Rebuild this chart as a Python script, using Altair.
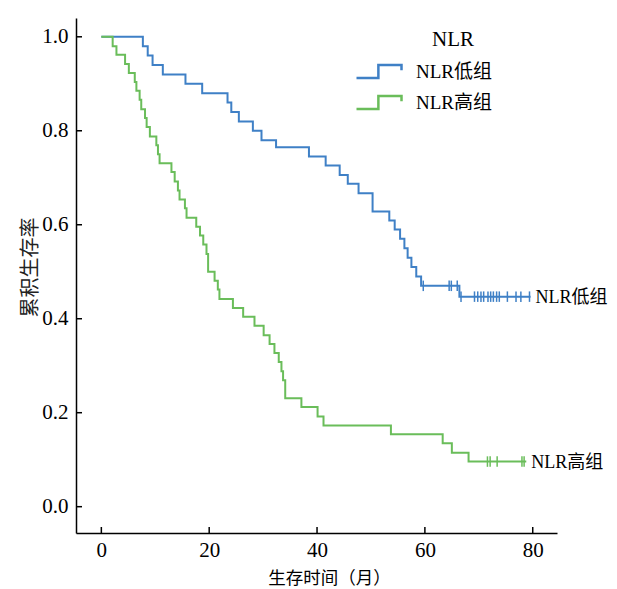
import altair as alt
import pandas as pd

# ---- data ----
groups = ["NLR低组", "NLR高组"]
colors = ["#3f80c6", "#6abd5a"]

low_time = [0, 7.7, 8.6, 9.5, 11.4, 15.6, 18.7, 23.4, 24.1, 25.5, 28.1, 29.7, 32.4,
            38.5, 41.6, 44.2, 45.7, 47.7, 50.3, 53.4, 54.4, 55.4, 56.2, 56.8, 57.5,
            58.4, 59.3, 66.4, 79.6]
low_surv = [1.0, 0.98, 0.96, 0.94, 0.92, 0.90, 0.88, 0.86, 0.84, 0.82, 0.80, 0.78, 0.765,
            0.745, 0.726, 0.706, 0.687, 0.667, 0.628, 0.609, 0.590, 0.570, 0.550, 0.530, 0.510,
            0.490, 0.470, 0.447, 0.447]
low_censor = [59.7, 64.5, 64.9, 66.0, 66.7, 69.2, 69.8, 70.4, 70.9, 71.7, 72.2, 72.7,
              73.3, 73.8, 75.3, 76.9, 77.8, 79.4]

high_time = [0, 2.1, 2.8, 4.4, 5.1, 6.2, 6.5, 7.1, 7.4, 8.1, 8.4, 9.0, 10.2, 10.5, 10.8,
             13.0, 13.6, 14.2, 14.5, 15.5, 15.8, 17.6, 18.3, 18.9, 19.5, 19.8, 21.0, 21.6,
             21.9, 24.4, 26.3, 28.4, 30.1, 31.2, 32.1, 32.9, 33.4, 33.7, 34.1, 37.1, 40.1,
             41.2, 53.7, 63.3, 65.0, 68.1, 78.8]
high_surv = [1.0, 0.98, 0.962, 0.942, 0.923, 0.904, 0.885, 0.866, 0.846, 0.827, 0.808, 0.788,
             0.769, 0.75, 0.731, 0.712, 0.692, 0.673, 0.654, 0.635, 0.615, 0.596, 0.577, 0.558,
             0.538, 0.50, 0.481, 0.462, 0.442, 0.423, 0.404, 0.385, 0.365, 0.346, 0.327, 0.308,
             0.288, 0.269, 0.231, 0.212, 0.192, 0.173, 0.154, 0.135, 0.115, 0.096, 0.096]
high_censor = [71.6, 72.1, 73.4, 78.0, 78.4]

x_ticks = [0, 20, 40, 60, 80]
y_ticks = [0.0, 0.2, 0.4, 0.6, 0.8, 1.0]

legend_title = "NLR"
x_title = "生存时间（月）"
y_title = "累积生存率"

# ---- tables ----
def step_value(times, survs, t):
    val = survs[0]
    for ti, si in zip(times, survs):
        if ti <= t:
            val = si
    return val

rows = []
for g, ts, ss in [(groups[0], low_time, low_surv), (groups[1], high_time, high_surv)]:
    for i, (t, s) in enumerate(zip(ts, ss)):
        rows.append({"group": g, "time": t, "surv": s, "order": i})
curves = pd.DataFrame(rows)

crow = []
for g, cs, ts, ss in [(groups[0], low_censor, low_time, low_surv),
                      (groups[1], high_censor, high_time, high_surv)]:
    for c in cs:
        crow.append({"group": g, "time": c, "surv": step_value(ts, ss, c)})
censors = pd.DataFrame(crow)

ends = pd.DataFrame([
    {"group": groups[0], "time": low_time[-1], "surv": low_surv[-1]},
    {"group": groups[1], "time": high_time[-1], "surv": high_surv[-1]},
])

xt = pd.DataFrame({"v": x_ticks})
yt = pd.DataFrame({"v": y_ticks})

W, H = 481, 515
SERIF = "Liberation Serif, Noto Sans CJK SC"
CJK = "Noto Sans CJK SC"

xscale = alt.Scale(domain=[-4.7, 84.5], nice=False, zero=False)
yscale = alt.Scale(domain=[-0.056, 1.04], nice=False, zero=False)
cscale = alt.Scale(domain=groups, range=colors)

xaxis = alt.Axis(values=x_ticks, format="d", ticks=False, grid=False, domainColor="black",
                 domainWidth=1.5, labelFont=SERIF, labelFontSize=21, labelColor="black",
                 labelPadding=6, title=x_title, titleFont=CJK, titleFontSize=17.5,
                 titleFontWeight="normal", titleColor="black", titleY=45, titleX=253,
                 titleAlign="center", titleBaseline="middle")
yaxis = alt.Axis(values=y_ticks, format=".1f", ticks=False, grid=False, domainColor="black",
                 domainWidth=1.5, labelFont=SERIF, labelFontSize=21, labelColor="black",
                 labelPadding=8, title=y_title, titleFont=CJK, titleFontSize=20,
                 titleFontWeight="normal", titleColor="#222222", titleX=-46, titleY=249,
                 titleBaseline="middle", titleAlign="center")

legend = alt.Legend(
    orient="none", legendX=289, legendY=39.5, title=None, padding=0,
    symbolType="M-1.8,0.52L-0.05,0.52L-0.05,-0.52L1.8,-0.52L1.8,-0.1",
    symbolSize=625, symbolStrokeWidth=2.5, symbolFillColor="transparent",
    labelFont=SERIF, labelFontSize=19, labelColor="black", labelOffset=23,
    rowPadding=5,
)

lines = alt.Chart(curves).mark_line(interpolate="step-after", strokeWidth=2).encode(
    x=alt.X("time:Q", scale=xscale, axis=xaxis),
    y=alt.Y("surv:Q", scale=yscale, axis=yaxis),
    color=alt.Color("group:N", scale=cscale, legend=legend),
    order="order:Q",
)

cens = alt.Chart(censors).mark_point(shape="M0,-1L0,1", size=110, strokeWidth=1.5,
                                     filled=False, opacity=1).encode(
    x=alt.X("time:Q", scale=xscale),
    y=alt.Y("surv:Q", scale=yscale),
    color=alt.Color("group:N", scale=cscale, legend=None),
)

endlab = alt.Chart(ends).mark_text(align="left", baseline="middle", dx=5, dy=1,
                                   font=SERIF, fontSize=18, color="black").encode(
    x=alt.X("time:Q", scale=xscale),
    y=alt.Y("surv:Q", scale=yscale),
    text="group:N",
)

ytick = alt.Chart(yt).mark_rule(color="black", strokeWidth=1.5).encode(
    y=alt.Y("v:Q", scale=yscale), x=alt.value(0), x2=alt.value(6))
xtick = alt.Chart(xt).mark_rule(color="black", strokeWidth=1.5).encode(
    x=alt.X("v:Q", scale=xscale), y=alt.value(H), y2=alt.value(H - 6))

ltitle = alt.Chart(pd.DataFrame({"t": [legend_title]})).mark_text(
    font=SERIF, fontSize=21, color="black", align="center", baseline="middle").encode(
    x=alt.value(377), y=alt.value(22), text="t:N")

chart = alt.layer(lines, cens, endlab, ytick, xtick, ltitle).properties(
    width=W, height=H,
    autosize=alt.AutoSizeParams(type="none"),
    padding={"left": 68, "top": 10, "right": 52, "bottom": 55},
    background="white",
).configure_view(stroke=None)

chart.save("out.html", embed_options={"renderer": "svg", "actions": False})
